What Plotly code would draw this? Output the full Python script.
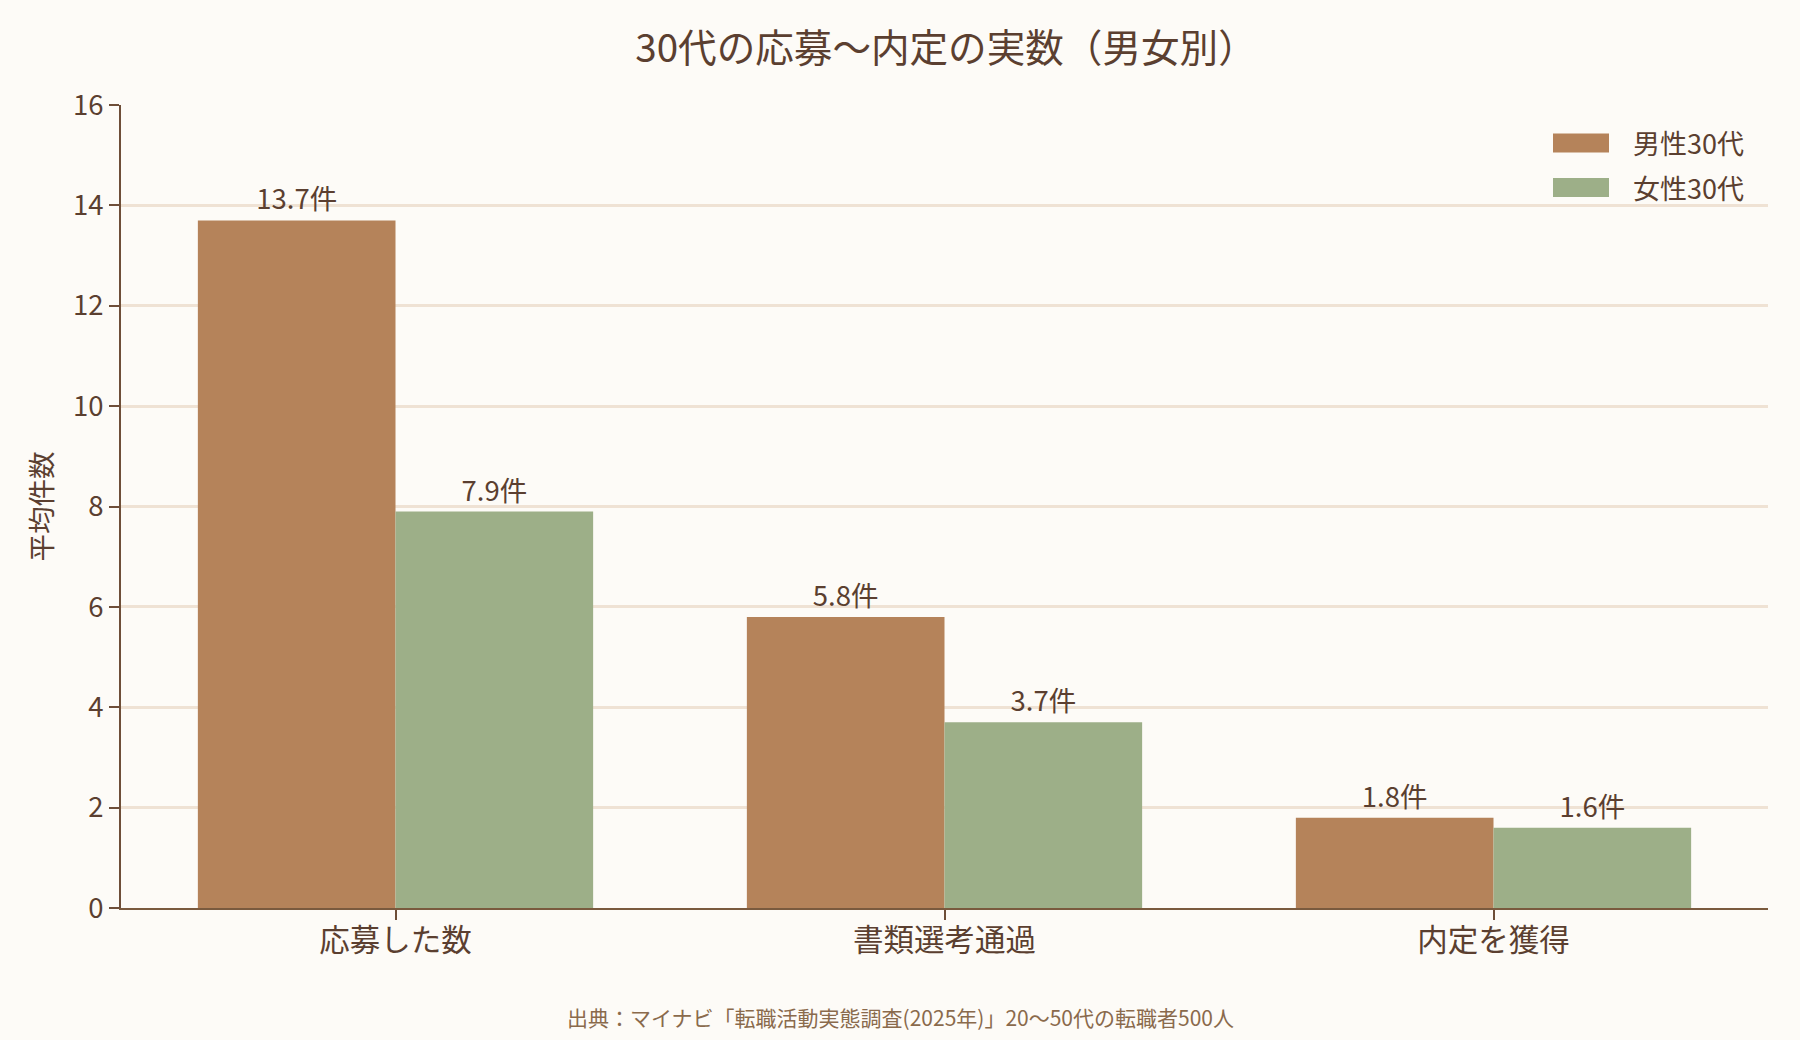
import plotly.graph_objects as go

categories = ["応募した数", "書類選考通過", "内定を獲得"]
series_names = ["男性30代", "女性30代"]
male_values = [13.7, 5.8, 1.8]
female_values = [7.9, 3.7, 1.6]
y_ticks = [0, 2, 4, 6, 8, 10, 12, 14, 16]
colors = ["#B5835A", "#9DAF88"]

FONT = "Noto Sans CJK JP"
TEXT = "#5B3F30"
AXIS = "#6E4E38"

# plot area in pixels
L, R, T, B = 121, 32, 105, 132
W, H = 1800, 1040
PW, PH = W - L - R, H - T - B

def px_x(x):
    return (x - L) / PW

def px_y(y):
    return (H - B - y) / PH

fig = go.Figure()
for name, vals, col in zip(series_names, [male_values, female_values], colors):
    fig.add_trace(go.Bar(
        x=categories, y=vals, name=name, marker=dict(color=col, line=dict(width=0)),
        text=[f"{v:.1f}件" for v in vals], textposition="outside",
        textfont=dict(size=27.5, color=TEXT, family=FONT), cliponaxis=False,
        showlegend=False,
    ))

# custom legend (wide swatches as in the reference)
shapes = []
annotations = []
for i, (name, col) in enumerate(zip(series_names, colors)):
    cy = 143 + i * 44.5
    shapes.append(dict(type="rect", xref="paper", yref="paper",
                       x0=px_x(1553), x1=px_x(1609), y0=px_y(cy + 9.5), y1=px_y(cy - 9.5),
                       fillcolor=col, line=dict(width=0), layer="above"))
    annotations.append(dict(text=name, xref="paper", yref="paper", x=px_x(1631), y=px_y(cy),
                            xanchor="left", yanchor="middle", showarrow=False,
                            font=dict(size=27, color=TEXT, family=FONT)))

annotations.append(dict(text="出典：マイナビ「転職活動実態調査(2025年)」20～50代の転職者500人",
                        xref="paper", yref="paper", x=px_x(900), y=px_y(1017),
                        xanchor="center", yanchor="middle", showarrow=False,
                        font=dict(size=21, color="#8A6A4C", family=FONT)))

fig.update_layout(
    width=W, height=H,
    paper_bgcolor="#FDFBF7", plot_bgcolor="#FDFBF7",
    font=dict(family=FONT, color=TEXT, size=27),
    barmode="group", bargap=0.28, bargroupgap=0,
    margin=dict(l=L, r=R, t=T, b=B),
    showlegend=False,
    title=dict(text="30代の応募～内定の実数（男女別）", x=946 / W, xanchor="center",
               y=1 - 48 / H, yanchor="middle", font=dict(size=38.6, color=TEXT, family=FONT)),
    xaxis=dict(showline=True, linecolor="#7A5A3E", linewidth=2, ticks="outside", ticklen=10,
               tickwidth=2, tickcolor=AXIS, tickfont=dict(size=30.5, color=TEXT), showgrid=False,
               ticklabelstandoff=-6),
    yaxis=dict(range=[0, 16], tickvals=y_ticks, showline=True, linecolor=AXIS, linewidth=2,
               ticks="outside", ticklen=10, tickwidth=2, tickcolor=AXIS,
               gridcolor="#EFE2D4", gridwidth=2.5, zeroline=False,
               tickfont=dict(size=27.5, color=TEXT),
               title=dict(text="平均件数", font=dict(size=27.5, color=TEXT), standoff=12)),
    shapes=shapes,
    annotations=annotations,
)

fig.write_html("out.html")
